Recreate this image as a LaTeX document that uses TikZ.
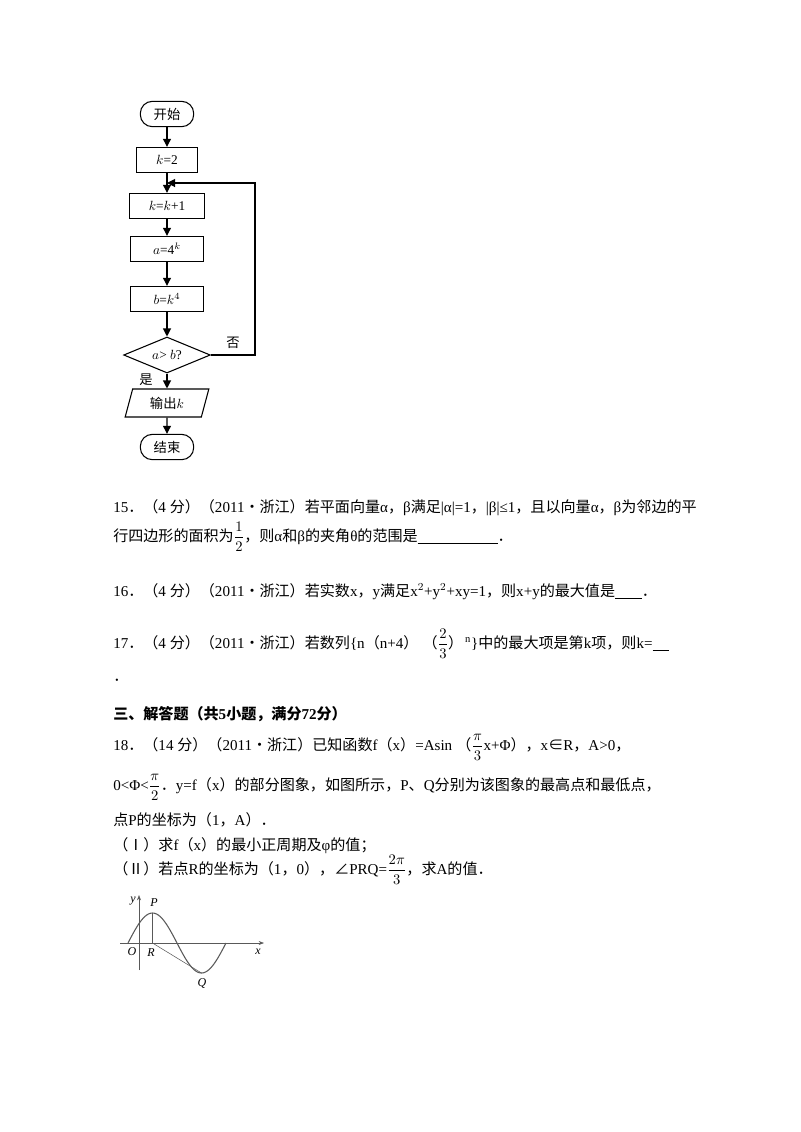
\documentclass[tikz,border=0pt]{standalone}
\usepackage{amsmath}
\usepackage{fontspec}
\setmainfont{Liberation Serif}
\newfontfamily\cjk{Noto Sans CJK SC}
\newcommand{\zh}[1]{{\cjk #1}}
\usetikzlibrary{shapes.geometric,arrows.meta}
\begin{document}
\begin{tikzpicture}[x=0.75pt,y=-0.75pt,
  box/.style={draw,thick,minimum width=54pt,minimum height=19pt,inner sep=0pt,font=\fontsize{10}{12}\selectfont},
  term/.style={draw,thick,rounded corners=9pt,minimum width=40pt,minimum height=19pt,inner sep=0pt,font=\fontsize{10}{12}\selectfont},
  arr/.style={thick,-{Triangle[length=6pt,width=6pt]}},
  txt/.style={anchor=base west,inner sep=0pt,font=\fontsize{11.3}{14}\selectfont},
  lab/.style={inner sep=0pt,font=\fontsize{9}{10}\selectfont\itshape}]
\useasboundingbox (0,0) rectangle (800,1132);
% flowchart
\node[term] (start) at (167,114) {\zh{开始}};
\node[box,minimum width=46pt] (k2) at (167,160) {$k$=2};
\node[box,minimum width=56pt] (kk) at (167,206) {$k$=$k$+1};
\node[box,minimum width=55pt] (a) at (167,249) {$a$=4$^{k}$};
\node[box,minimum width=55pt] (b) at (167,299) {$b$=$k^{4}$};
\node[diamond,draw,thick,aspect=2.4,minimum width=65pt,minimum height=27pt,inner sep=0pt,font=\fontsize{10}{12}\selectfont] (d) at (167,355) {$a$> $b$?};
\node[trapezium,trapezium left angle=75,trapezium right angle=105,draw,thick,minimum width=55pt,minimum height=21pt,inner sep=1pt,font=\fontsize{10}{12}\selectfont] (out) at (167,403) {\zh{输出}$k$};
\node[term] (end) at (167,447) {\zh{结束}};
\coordinate (back) at (167,183);
\draw[arr] (start) -- (k2);
\draw[arr] (k2) -- (kk);
\draw[arr] (kk) -- (a);
\draw[arr] (a) -- (b);
\draw[arr] (b) -- (d);
\draw[arr] (d) -- (out);
\draw[arr] (out) -- (end);
\draw[arr] (d.east) -- (255,355) -- (255,183) -- (back);
\node[font=\fontsize{10}{12}\selectfont] (no) at (233,343) {\zh{否}};
\node[font=\fontsize{10}{12}\selectfont] (yes) at (146,380) {\zh{是}};
% text
\node[txt] (q15) at (113,512) {15\zh{．（}4 \zh{分）（}2011\zh{•浙江）若平面向量}α\zh{，}β\zh{满足}|α|=1\zh{，}|β|≤1\zh{，且以向量}α\zh{，}β\zh{为邻边的平}};
\node[txt] (q15b) at (113,541) {\zh{行四边形的面积为}$\dfrac{1}{2}$\zh{，则}α\zh{和}β\zh{的夹角}θ\zh{的范围是}\underline{\hspace{60pt}}\zh{．}};
\node[txt] (q16) at (113,596) {16\zh{．（}4 \zh{分）（}2011\zh{•浙江）若实数}x\zh{，}y\zh{满足}x$^2$+y$^2$+xy=1\zh{，则}x+y\zh{的最大值是}\underline{\hspace{20pt}}\zh{．}};
\node[txt] (q17) at (113,648) {17\zh{．（}4 \zh{分）（}2011\zh{•浙江）若数列}\{n\zh{（}n+4\zh{）}\;\zh{（}$\dfrac{2}{3}$\zh{）}$^{\,\mathrm{n}}$\}\zh{中的最大项是第}k\zh{项，则}k=\underline{\hspace{12pt}}};
\node[txt] (dot) at (113,681) {\zh{．}};
\node[txt] (sec) at (113,719) {\zh{\bfseries 三、解答题（共}\textbf{5}\zh{\bfseries 小题，满分}\textbf{72}\zh{\bfseries 分）}};
\node[txt] (q18) at (113,750) {18\zh{．（}14 \zh{分）（}2011\zh{•浙江）已知函数}f\zh{（}x\zh{）}=Asin\;\zh{（}$\dfrac{\pi}{3}$x+Φ\zh{）}\zh{，}x\zh{∈}R\zh{，}A>0\zh{，}};
\node[txt] (q18b) at (113,790) {0<Φ<$\dfrac{\pi}{2}$\zh{．}y=f\zh{（}x\zh{）的部分图象，如图所示，}P\zh{、}Q\zh{分别为该图象的最高点和最低点，}};
\node[txt] (q18c) at (113,825) {\zh{点}P\zh{的坐标为（}1\zh{，}A\zh{）．}};
\node[txt] (q18d) at (113,850) {\zh{（Ⅰ）求}f\zh{（}x\zh{）的最小正周期及}φ\zh{的值；}};
\node[txt] (q18e) at (113,874) {\zh{（Ⅱ）若点}R\zh{的坐标为（}1\zh{，}0\zh{），∠}PRQ=$\dfrac{2\pi}{3}$\zh{，求}A\zh{的值．}};
% graph
\coordinate (xs) at (120,943); \coordinate (xe) at (264,943);
\coordinate (ys) at (139,970); \coordinate (ye) at (139,895);
\draw[gray!70!black,-{Stealth[length=4pt]}] (xs) -- (xe);
\draw[gray!70!black,-{Stealth[length=4pt]}] (ys) -- (ye);
\draw[gray!70!black,thick,domain=128:226,samples=80,smooth] plot (\x,{943-30*sin((\x-128)/98*360)});
\coordinate (P) at (152.5,913); \coordinate (R) at (152.5,943); \coordinate (Q) at (201.5,973);
\draw[gray!70!black] (P) -- (R) -- (Q);
\node[lab] (ly) at (133,901) {y};
\node[lab] (lP) at (154,903) {P};
\node[lab] (lO) at (132,952) {O};
\node[lab] (lR) at (151,953) {R};
\node[lab] (lx) at (258,952) {x};
\node[lab] (lQ) at (202,983) {Q};
\end{tikzpicture}
\end{document}
